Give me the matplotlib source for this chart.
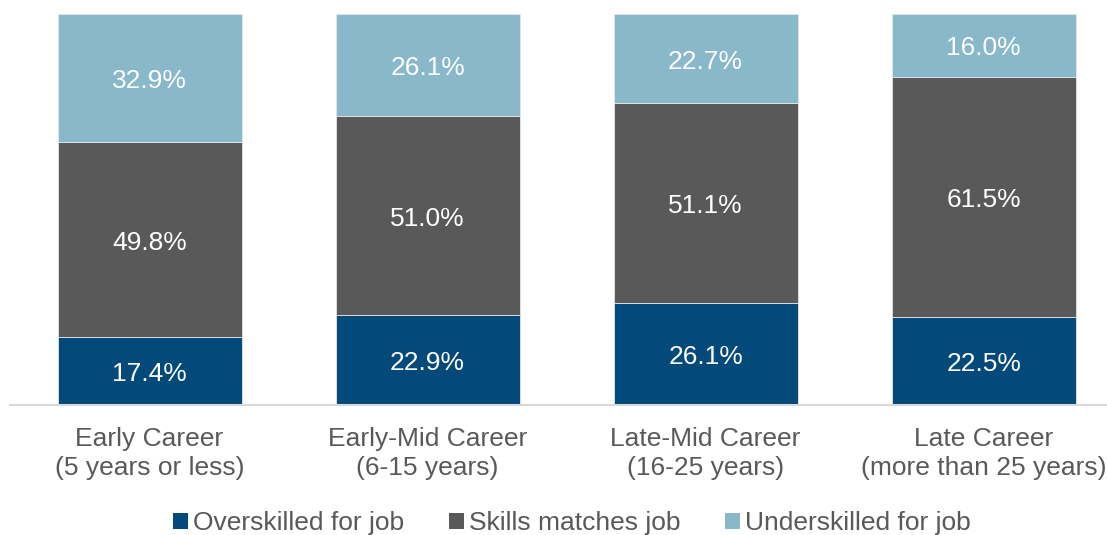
import matplotlib
matplotlib.use("Agg")
import matplotlib.pyplot as plt
from matplotlib.patches import Patch
import numpy as np

plt.rcParams['font.family'] = ['Liberation Sans', 'DejaVu Sans']

categories = ["Early Career\n(5 years or less)",
              "Early-Mid Career\n(6-15 years)",
              "Late-Mid Career\n(16-25 years)",
              "Late Career\n(more than 25 years)"]
overskilled = [17.4, 22.9, 26.1, 22.5]
matches = [49.8, 51.0, 51.1, 61.5]
underskilled = [32.9, 26.1, 22.7, 16.0]
series_names = ["Overskilled for job", "Skills matches job", "Underskilled for job"]
colors = ["#03497A", "#595959", "#89B8CB"]

W, H = 1107, 535
fig = plt.figure(figsize=(W / 100, H / 100), dpi=100)
ax = fig.add_axes([10 / W, 1 - 405 / H, (1107 - 10) / W, (405 - 14) / H])

x = np.arange(len(categories))
width = 0.662
bottom = np.zeros(len(categories))
for vals, col in zip([overskilled, matches, underskilled], colors):
    vals = np.array(vals)
    ax.bar(x, vals, width, bottom=bottom, color=col,
           edgecolor="#e6e6e6", linewidth=0.6)
    for xi, b, v in zip(x, bottom, vals):
        ax.annotate(f"{v:.1f}%", (xi, b + v / 2), xytext=(0, -2.2),
                    textcoords="offset points", ha="center", va="center",
                    color="white", fontsize=19)
    bottom += vals

ax.set_xlim(-0.502, 3.444)
ax.set_ylim(0, 100)
ax.set_yticks([])
ax.set_xticks(x)
ax.set_xticklabels(categories, fontsize=19, color="#595959", linespacing=1.27)
ax.tick_params(axis="x", length=0, pad=16)
for s in ["top", "right", "left"]:
    ax.spines[s].set_visible(False)
ax.spines["bottom"].set_color("#d9d9d9")
ax.spines["bottom"].set_linewidth(1.5)

handles = [Patch(facecolor=c, edgecolor="none") for c in colors]
fig.legend(handles, series_names, loc="center",
           bbox_to_anchor=(572 / W, 1 - 523 / H), ncol=3, frameon=False,
           fontsize=19, labelcolor="#595959", handlelength=0.55,
           handleheight=0.55, handletextpad=0.2, columnspacing=1.7)

fig.savefig("out.png", dpi=100)
